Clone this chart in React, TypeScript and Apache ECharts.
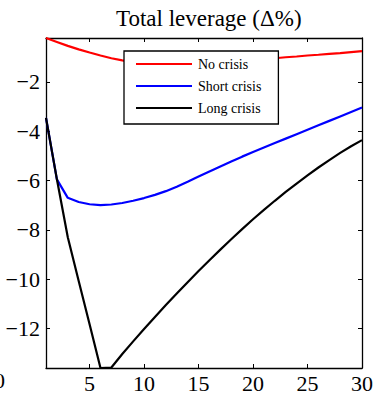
import React, { useEffect, useRef } from "react";
import * as echarts from "echarts";

// Horizon (periods after the shock)
const periods = [
  1, 2, 3, 4, 5, 6, 7, 8, 9, 10, 11, 12, 13, 14, 15, 16, 17, 18, 19, 20, 21, 22,
  23, 24, 25, 26, 27, 28, 29, 30,
];

// Total leverage, % change from steady state
const noCrisis = [
  -0.22, -0.38, -0.54, -0.68, -0.81, -0.93, -1.04, -1.13, -1.2, -1.24, -1.25,
  -1.24, -1.22, -1.2, -1.18, -1.16, -1.14, -1.12, -1.1, -1.08, -1.06, -1.04,
  -1.0, -0.97, -0.93, -0.9, -0.86, -0.83, -0.79, -0.75,
];
const shortCrisis = [
  -3.46, -5.95, -6.7, -6.87, -6.96, -7.0, -6.97, -6.91, -6.82, -6.71, -6.58,
  -6.43, -6.25, -6.05, -5.84, -5.63, -5.43, -5.23, -5.03, -4.84, -4.66, -4.48,
  -4.3, -4.12, -3.94, -3.76, -3.58, -3.4, -3.22, -3.04,
];
const longCrisis = [
  -3.46, -5.95, -8.3, -10.07, -11.83, -13.6, -13.58, -13.03, -12.52, -12.02,
  -11.53, -11.05, -10.58, -10.12, -9.67, -9.23, -8.8, -8.38, -7.97, -7.57,
  -7.19, -6.82, -6.46, -6.12, -5.79, -5.47, -5.17, -4.88, -4.61, -4.36,
];

const xTicks = [5, 10, 15, 20, 25, 30];
const yTicks = [-12, -10, -8, -6, -4, -2];

const FONT = '"Liberation Serif", "DejaVu Serif", serif';

const pairs = (ys: number[]) => periods.map((p, i) => [p, ys[i]]);

export default function App() {
  const ref = useRef<HTMLDivElement>(null);

  useEffect(() => {
    if (!ref.current) return;
    document.body.style.margin = "0";
    const chart = echarts.init(ref.current, null, { renderer: "svg" });

    const axisLine = { show: true, onZero: false, lineStyle: { color: "#000", width: 1.3 } };
    const tickStyle = { inside: true, length: 4, lineStyle: { color: "#000", width: 1 } };

    const xBase = {
      type: "value" as const,
      min: 1,
      max: 30,
      axisLine,
      splitLine: { show: false },
    };
    const yBase = {
      type: "value" as const,
      min: -13.6,
      max: -0.22,
      axisLine,
      splitLine: { show: false },
    };

    chart.setOption({
      animation: false,
      title: {
        text: "Total leverage (Δ%)",
        left: 111,
        top: 2,
        textStyle: { fontFamily: FONT, fontSize: 23, fontWeight: "normal", color: "#000" },
      },
      grid: { left: 46, right: 14, top: 38, bottom: 28 },
      legend: {
        orient: "vertical",
        left: 124,
        top: 51,
        padding: [6, 17, 9, 12],
        itemGap: 8,
        itemWidth: 56,
        itemHeight: 12,
        icon: "path://M0,5 L56,5 L56,7 L0,7 Z",
        borderColor: "#000",
        borderWidth: 1.3,
        borderRadius: 0,
        backgroundColor: "#fff",
        textStyle: { fontFamily: FONT, fontSize: 14, color: "#000", padding: [0, 0, 0, 1] },
        data: ["No crisis", "Short crisis", "Long crisis"],
      },
      xAxis: [
        {
          ...xBase,
          position: "bottom",
          axisTick: { ...tickStyle, customValues: xTicks },
          axisLabel: {
            customValues: xTicks,
            margin: 4,
            color: "#000",
            fontFamily: FONT,
            fontSize: 22,
          },
        },
        {
          ...xBase,
          position: "top",
          axisTick: { ...tickStyle, customValues: xTicks },
          axisLabel: { show: false },
        },
      ],
      yAxis: [
        {
          ...yBase,
          position: "left",
          axisTick: { ...tickStyle, customValues: yTicks },
          axisLabel: {
            customValues: yTicks,
            margin: 6,
            color: "#000",
            fontFamily: FONT,
            fontSize: 22,
            formatter: (v: number) => String(v).replace("-", "\u2212"),
          },
        },
        {
          ...yBase,
          position: "right",
          axisTick: { ...tickStyle, customValues: yTicks },
          axisLabel: { show: false },
        },
      ],
      graphic: [
        {
          type: "text",
          left: -6,
          top: 369,
          style: { text: "0", fontFamily: FONT, fontSize: 22, fill: "#000" },
        },
      ],
      series: [
        {
          name: "No crisis",
          type: "line",
          data: pairs(noCrisis),
          showSymbol: false,
          symbol: "none",
          lineStyle: { color: "#ff0000", width: 2.2 },
          itemStyle: { color: "#ff0000" },
        },
        {
          name: "Short crisis",
          type: "line",
          data: pairs(shortCrisis),
          showSymbol: false,
          symbol: "none",
          lineStyle: { color: "#0000ff", width: 2.2 },
          itemStyle: { color: "#0000ff" },
        },
        {
          name: "Long crisis",
          type: "line",
          data: pairs(longCrisis),
          showSymbol: false,
          symbol: "none",
          lineStyle: { color: "#000000", width: 2.2 },
          itemStyle: { color: "#000000" },
        },
      ],
    });

    return () => chart.dispose();
  }, []);

  return <div ref={ref} style={{ width: 376, height: 396 }} />;
}
